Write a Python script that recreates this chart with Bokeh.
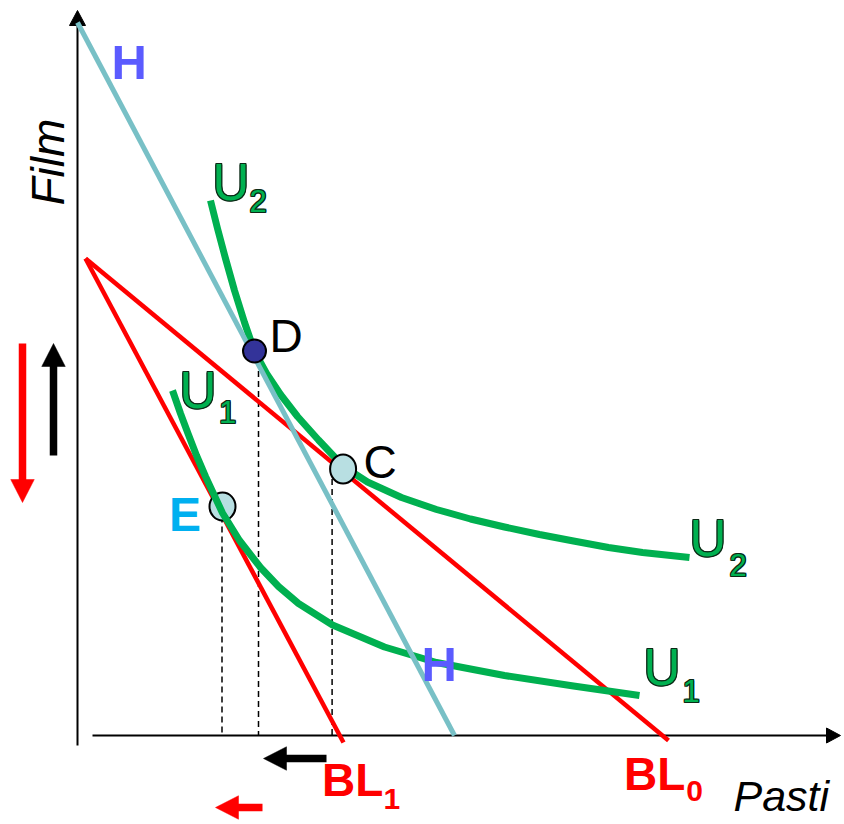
import numpy as np
from bokeh.plotting import figure
from bokeh.models import Range1d
from bokeh.core.properties import value
from bokeh.embed import file_html
from bokeh.resources import INLINE

# ---------------- data (economic units: Pasti on x, Film on y) ----------------
x_axis_x = [1.5, 76.3]
y_axis_y = [-1.0, 72.5]

# budget lines and the compensating line H (start / end points)
bl0_x = [0.8, 59.1]
bl0_y = [47.7, -0.5]
bl1_x = [0.8, 26.6]
bl1_y = [47.7, -0.7]
h_x = [0.0, 37.7]
h_y = [71.3, 0.0]

# indifference curves
u2_x = [13.3, 14.0, 14.8, 15.7, 16.7, 17.7, 18.9, 20.3, 22.0, 24.1, 26.6,
        29.0, 32.4, 35.9, 39.3, 42.7, 46.2, 49.6, 53.1, 56.5, 61.2]
u2_y = [53.5, 50.7, 47.7, 44.5, 41.3, 38.4, 36.2, 34.1, 31.9, 29.55, 26.9,
        25.35, 23.8, 22.6, 21.65, 20.85, 20.1, 19.45, 18.8, 18.3, 17.8]
u1_x = [9.5, 10.3, 11.05, 11.9, 12.8, 14.5, 16.2, 18.3, 20.1, 22.1, 25.5,
        30.7, 35.9, 42.7, 49.6, 56.2]
u1_y = [34.5, 32.2, 30.2, 28.0, 25.9, 22.25, 19.5, 16.8, 14.9, 13.2, 11.05,
        8.85, 7.3, 6.0, 4.95, 4.0]

# points D, C, E
pt_x = [17.7, 26.56, 14.5]
pt_y = [38.45, 26.65, 22.9]
pt_w = [2.3, 2.6, 2.6]
pt_h = [2.3, 2.9, 2.8]

# dashed drop lines
drop_x = [18.1, 25.46, 14.45]
drop_top = [38.45, 26.65, 22.9]

# shift arrows: start, tip
arrows = [
    dict(x0=-5.5, y0=39.2, x1=-5.5, y1=23.3, color="#ff0000"),   # red down
    dict(x0=-2.4, y0=28.0, x1=-2.4, y1=39.2, color="#000000"),   # black up
    dict(x0=24.9, y0=-2.3, x1=18.6, y1=-2.3, color="#000000"),   # black left
    dict(x0=18.5, y0=-7.2, x1=13.8, y1=-7.2, color="#ff0000"),   # red left
]

# ---------------- figure ----------------
p = figure(width=844, height=824, output_backend="svg", toolbar_location=None,
           x_range=Range1d(-7.7, 76.7), y_range=Range1d(-8.9, 73.5),
           x_axis_location=None, y_axis_location=None, min_border=0,
           background_fill_color="white", border_fill_color="white")
p.grid.visible = False
p.outline_line_color = None

UNIT_PX = 10.0     # screen pixels per data unit
BASE_K = 0.38      # baseline correction (fraction of font size)

FONT = value("Liberation Sans")
RED = "#ff0000"
GREEN = "#00b050"
HCOL = "#78c0c6"

# axes
p.line([0, 0], [y_axis_y[0], y_axis_y[1] - 1.3], line_color="black", line_width=2)
p.line([x_axis_x[0], x_axis_x[1] - 1.2], [0, 0], line_color="black", line_width=2)
p.patch([0, -0.8, 0.8], [y_axis_y[1], y_axis_y[1] - 1.5, y_axis_y[1] - 1.5],
        fill_color="black", line_color="black", line_width=1)
p.patch([x_axis_x[1], x_axis_x[1] - 1.4, x_axis_x[1] - 1.4], [0, 0.75, -0.75],
        fill_color="black", line_color="black", line_width=1)

# dashed drop lines
for dx, dt in zip(drop_x, drop_top):
    p.line([dx, dx], [dt, 0], line_color="black", line_width=1.5, line_dash="6 4")

# budget lines
p.line(bl0_x, bl0_y, line_color=RED, line_width=4.5)
p.line(bl1_x, bl1_y, line_color=RED, line_width=4.5)

# point E below the curve
p.ellipse(x=[pt_x[2]], y=[pt_y[2]], width=[pt_w[2]], height=[pt_h[2]],
          fill_color="#b8dfe2", line_color="black", line_width=2)

# indifference curves
p.line(u2_x, u2_y, line_color=GREEN, line_width=7, line_join="round")
p.line(u1_x, u1_y, line_color=GREEN, line_width=7, line_join="round")

# H line
p.line(h_x, h_y, line_color=HCOL, line_width=5)

# points D, C on top
p.ellipse(x=[pt_x[0]], y=[pt_y[0]], width=[pt_w[0]], height=[pt_h[0]],
          fill_color="#333399", line_color="black", line_width=2)
p.ellipse(x=[pt_x[1]], y=[pt_y[1]], width=[pt_w[1]], height=[pt_h[1]],
          fill_color="#b8dfe2", line_color="black", line_width=2)

# arrows (shaft + head)
for a in arrows:
    d = np.array([a["x1"] - a["x0"], a["y1"] - a["y0"]])
    d = d / np.hypot(*d)
    n = np.array([-d[1], d[0]])
    L, W = 2.3, 2.35
    tip = np.array([a["x1"], a["y1"]])
    base = tip - d * L
    sh_end = base + d * 0.3
    p.line([a["x0"], sh_end[0]], [a["y0"], sh_end[1]], line_color=a["color"],
           line_width=7.5, line_cap="butt")
    tri = [tip, base + n * W / 2, base - n * W / 2]
    p.patch([t[0] for t in tri], [t[1] for t in tri], fill_color=a["color"],
            line_color=a["color"], line_width=0.5)

# ---------------- labels ----------------
def label(x, y, txt, size, color, style="normal", angle=0.0):
    shift = BASE_K * size / UNIT_PX
    if angle:
        x = x - shift
    else:
        y = y + shift
    p.text(x=[x], y=[y], text=[txt], text_font=FONT, text_font_size=f"{size}px",
           text_color=color, text_font_style=style, text_align="left",
           text_baseline="alphabetic", angle=angle)

def outlined(x, y, txt, size):
    y = y + BASE_K * size / UNIT_PX
    for ox, oy in [(-1, 0), (1, 0), (0, -1), (0, 1), (-1, -1), (1, 1), (-1, 1), (1, -1)]:
        p.text(x=[x], y=[y], text=[txt], text_font=FONT, text_font_size=f"{size}px",
               text_color="#0b2a16", text_align="left", text_baseline="alphabetic",
               x_offset=ox, y_offset=oy)
    p.text(x=[x], y=[y], text=[txt], text_font=FONT, text_font_size=f"{size}px",
           text_color=GREEN, text_align="left", text_baseline="alphabetic")

label(3.4, 65.5, "H", 49, "#5b5bff", "bold")
label(34.4, 5.3, "H", 49, "#5b5bff", "bold")
label(9.15, 20.3, "E", 48, "#00b0f0", "bold")
label(19.2, 38.2, "D", 46, "black")
label(28.6, 25.6, "C", 46, "black")

outlined(13.5, 53.4, "U", 51)
outlined(17.2, 52.3, "2", 31)
outlined(10.2, 32.6, "U", 51)
outlined(14.15, 31.2, "1", 31)
outlined(61.2, 17.8, "U", 51)
outlined(65.2, 15.9, "2", 31)
outlined(56.6, 4.9, "U", 51)
outlined(60.5, 3.3, "1", 31)

label(24.46, -6.2, "BL", 46, RED, "bold")
label(30.6, -7.5, "1", 30, RED, "bold")
label(54.66, -5.6, "BL", 46, RED, "bold")
label(60.88, -6.7, "0", 30, RED, "bold")

label(65.6, -7.7, "Pasti", 43, "black", "italic")
label(-1.2, 53.0, "Film", 46, "black", "italic", angle=np.pi / 2)

open("out.html", "w").write(file_html(p, INLINE))
